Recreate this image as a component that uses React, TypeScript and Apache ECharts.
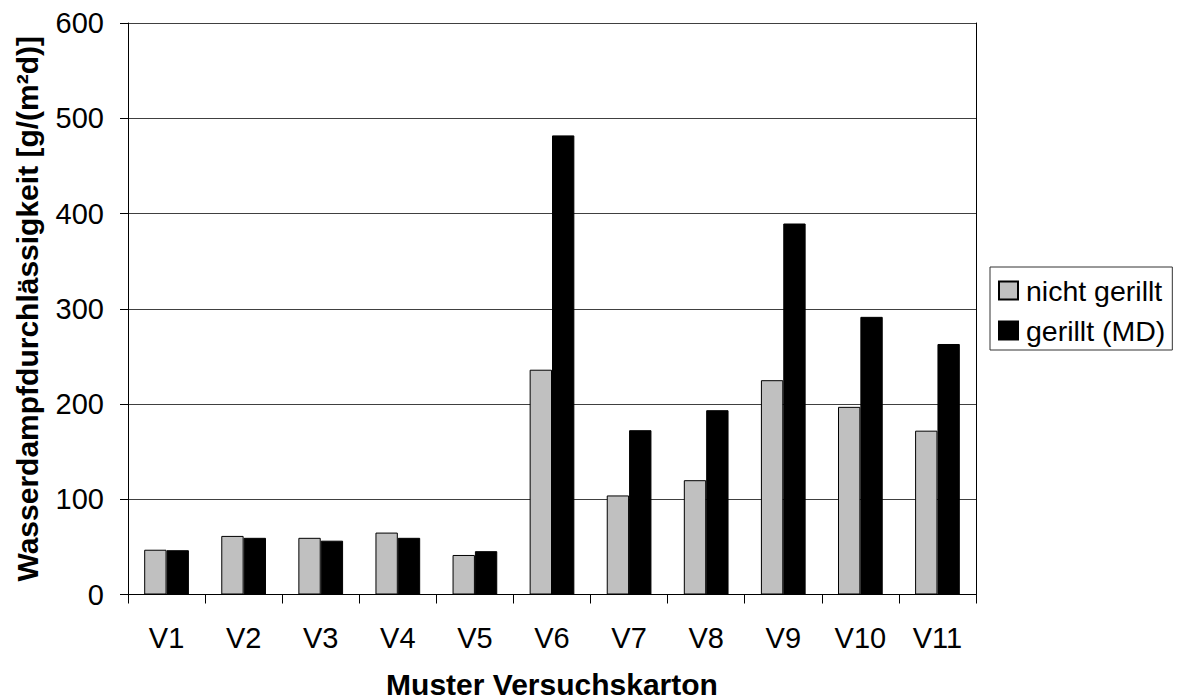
import React, { useEffect, useRef } from "react";
import * as echarts from "echarts";

const categories = ["V1", "V2", "V3", "V4", "V5", "V6", "V7", "V8", "V9", "V10", "V11"];
const nichtGerillt = [47, 61.5, 59.5, 65, 41.5, 236, 104, 120, 225, 197, 172];
const gerilltMD = [46.5, 59.5, 56.5, 59.5, 45.5, 482, 172.5, 193.5, 389.5, 291.5, 263];
const seriesNames = ["nicht gerillt", "gerillt (MD)"];
const xAxisTitle = "Muster Versuchskarton";
const yAxisTitle = "Wasserdampfdurchlässigkeit [g/(m²d)]";

const FONT = "'Liberation Sans', Arial, Helvetica, sans-serif";

export default function App() {
  const ref = useRef<HTMLDivElement>(null);
  useEffect(() => {
    if (!ref.current) return;
    const chart = echarts.init(ref.current, undefined, { renderer: "svg" });
    chart.setOption({
      animation: false,
      backgroundColor: "#fff",
      textStyle: { fontFamily: FONT },
      grid: {
        left: 128,
        right: 203,
        top: 23,
        bottom: 105.5,
        containLabel: false,
        outerBoundsMode: "none",
      },
      legend: {
        orient: "vertical",
        left: 990,
        top: 267,
        padding: [9, 7, 5, 8],
        itemGap: 11,
        itemWidth: 19,
        itemHeight: 18,
        icon: "rect",
        borderColor: "#333",
        borderWidth: 1,
        backgroundColor: "#fff",
        textStyle: { fontSize: 28.5, color: "#000", fontFamily: FONT, padding: [0, 0, 0, 3] },
        data: seriesNames,
      },
      xAxis: {
        type: "category",
        data: categories,
        name: xAxisTitle,
        nameLocation: "middle",
        nameGap: 75,
        nameTextStyle: { fontSize: 30, lineHeight: 30, fontWeight: "bold", color: "#000", fontFamily: FONT },
        axisLine: { show: true, lineStyle: { color: "#000", width: 1 } },
        axisTick: { show: true, length: 9, lineStyle: { color: "#000" } },
        axisLabel: { fontSize: 29, color: "#000", margin: 29, fontFamily: FONT },
      },
      yAxis: [
        {
          type: "value",
          min: 0,
          max: 600,
          interval: 100,
          name: yAxisTitle,
          nameLocation: "middle",
          nameGap: 86,
          nameTextStyle: { fontSize: 30, fontWeight: "bold", color: "#000", fontFamily: FONT },
          axisLine: { show: true, lineStyle: { color: "#000", width: 1 } },
          axisTick: { show: true, length: 8, lineStyle: { color: "#000" } },
          axisLabel: { fontSize: 29, color: "#000", margin: 24, fontFamily: FONT },
          splitLine: { show: true, lineStyle: { color: "#404040", width: 1 } },
        },
        {
          type: "value",
          min: 0,
          max: 600,
          interval: 100,
          position: "right",
          axisLine: { show: true, lineStyle: { color: "#000", width: 1 } },
          axisTick: { show: false },
          axisLabel: { show: false },
          splitLine: { show: false },
        },
      ],
      series: [
        {
          name: seriesNames[0],
          type: "bar",
          data: nichtGerillt,
          barGap: "0%",
          barCategoryGap: "42%",
          itemStyle: { color: "#c0c0c0", borderColor: "#000", borderWidth: 1 },
        },
        {
          name: seriesNames[1],
          type: "bar",
          data: gerilltMD,
          barGap: "0%",
          barCategoryGap: "42%",
          itemStyle: { color: "#000", borderColor: "#000", borderWidth: 1 },
        },
      ],
    });
    return () => chart.dispose();
  }, []);
  return (
    <div
      ref={ref}
      style={{ position: "fixed", left: 0, top: 0, width: 1179, height: 700 }}
    />
  );
}
